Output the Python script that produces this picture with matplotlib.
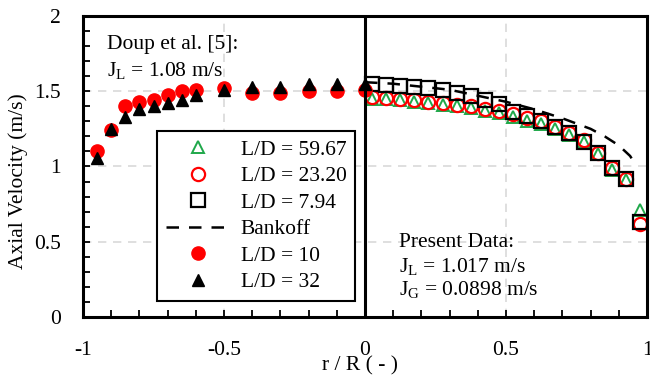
import matplotlib
matplotlib.use("Agg")
import matplotlib.pyplot as plt
from matplotlib.ticker import MultipleLocator

plt.rcParams['font.family'] = ['Liberation Serif', 'DejaVu Serif']
plt.rcParams['mathtext.fontset'] = 'custom'
plt.rcParams['mathtext.rm'] = 'Liberation Serif'
plt.rcParams['mathtext.it'] = 'Liberation Serif:italic'

FS = 15.5

# Present data (r/R > 0)
r_present = [0.025, 0.075, 0.125, 0.175, 0.225, 0.275, 0.325, 0.375, 0.425, 0.475,
             0.525, 0.575, 0.625, 0.675, 0.725, 0.775, 0.825, 0.875, 0.925, 0.975]
v_ld5967 = [1.45, 1.45, 1.44, 1.43, 1.42, 1.41, 1.40, 1.39, 1.37, 1.355,
            1.33, 1.30, 1.28, 1.25, 1.21, 1.16, 1.08, 0.98, 0.91, 0.71]
v_ld2320 = [1.46, 1.455, 1.45, 1.44, 1.43, 1.42, 1.41, 1.40, 1.385, 1.37,
            1.35, 1.32, 1.30, 1.265, 1.22, 1.175, 1.09, 0.99, 0.92, 0.62]
v_ld794 = [1.55, 1.54, 1.535, 1.53, 1.52, 1.51, 1.49, 1.47, 1.445, 1.415,
           1.365, 1.335, 1.30, 1.26, 1.22, 1.165, 1.09, 0.99, 0.92, 0.63]

# Bankoff profile
r_bankoff = [0.0, 0.1, 0.2, 0.3, 0.4, 0.5, 0.6, 0.7, 0.8, 0.85, 0.9, 0.94, 0.96]
v_bankoff = [1.56, 1.55, 1.53, 1.51, 1.47, 1.43, 1.38, 1.32, 1.25, 1.20, 1.14, 1.07, 1.01]

# Doup et al. [5]
r_doup = [-0.95, -0.90, -0.85, -0.80, -0.75, -0.70, -0.65, -0.60, -0.50, -0.40, -0.30, -0.20, -0.10, 0.0]
v_ld10 = [1.10, 1.24, 1.40, 1.43, 1.44, 1.475, 1.50, 1.51, 1.52, 1.49, 1.49, 1.50, 1.50, 1.51]
v_ld32 = [1.054, 1.25, 1.33, 1.38, 1.40, 1.42, 1.44, 1.475, 1.51, 1.53, 1.53, 1.55, 1.55, 1.55]

fig = plt.figure(figsize=(6.5, 3.78), dpi=100)
ax = fig.add_axes([0.1277, 0.1614, 0.8677, 0.7963])

ax.grid(True, which='major', color='#d9d9d9', linestyle=(0, (5, 4)), linewidth=1.2)
ax.set_axisbelow(True)

ax.plot(r_present, v_ld5967, linestyle='none', marker='^', markersize=8,
        markerfacecolor='none', markeredgecolor='#1fa84a', markeredgewidth=1.4,
        label='L/D = 59.67', zorder=3)
ax.plot(r_present, v_ld2320, linestyle='none', marker='o', markersize=9.5,
        markerfacecolor='none', markeredgecolor='#ff0000', markeredgewidth=1.6,
        label='L/D = 23.20', zorder=3)
ax.plot(r_present, v_ld794, linestyle='none', marker='s', markersize=9.5,
        markerfacecolor='none', markeredgecolor='black', markeredgewidth=1.6,
        label='L/D = 7.94', zorder=3)
ax.plot(r_bankoff, v_bankoff, color='black', linestyle=(0, (5, 4)), linewidth=1.8,
        label='Bankoff', zorder=2)
ax.plot(r_doup, v_ld10, linestyle='none', marker='o', markersize=9.5,
        color='#ff0000', label='L/D = 10', zorder=4)
ax.plot(r_doup, v_ld32, linestyle='none', marker='^', markersize=9,
        color='black', label='L/D = 32', zorder=5)

ax.axvline(0, color='black', linewidth=2.2, zorder=6)

ax.set_xlim(-1, 1)
ax.set_ylim(0, 2)
ax.xaxis.set_minor_locator(MultipleLocator(0.1))
ax.yaxis.set_minor_locator(MultipleLocator(0.1))
ax.set_xticks([-1, -0.5, 0, 0.5, 1])
ax.set_xticklabels(['-1', '-0.5', '0', '0.5', '1'])
ax.set_yticks([0, 0.5, 1, 1.5, 2])
ax.set_yticklabels(['0', '0.5', '1', '1.5', '2'])

ax.tick_params(axis='both', which='both', direction='in', top=False, right=False,
               width=1.3, length=5, labelsize=FS)
ax.tick_params(axis='x', which='major', pad=17)
ax.tick_params(axis='y', which='major', pad=16)

for s in ax.spines.values():
    s.set_linewidth(2.2)

ax.set_xlabel('r / R ( - )', fontsize=FS)
ax.xaxis.set_label_coords(0.491, -0.13)
ax.set_ylabel('Axial Velocity (m/s)', fontsize=FS)
ax.yaxis.set_label_coords(-0.098, 0.45)

ax.text(0.043, 0.904, 'Doup et al. [5]:', transform=ax.transAxes, fontsize=FS,
        va='center', ha='left')
ax.text(0.043, 0.82, r'J$_{\rm L}$ = 1.08 m/s', transform=ax.transAxes, fontsize=FS,
        va='center', ha='left')
ax.text(0.560, 0.249, 'Present Data:', transform=ax.transAxes, fontsize=FS,
        va='center', ha='left')
ax.text(0.560, 0.169, r'J$_{\rm L}$ = 1.017 m/s', transform=ax.transAxes, fontsize=FS,
        va='center', ha='left')
ax.text(0.560, 0.09, r'J$_{\rm G}$ = 0.0898 m/s', transform=ax.transAxes, fontsize=FS,
        va='center', ha='left')

leg = ax.legend(loc='upper left', bbox_to_anchor=(0.131, 0.618), fontsize=FS,
                frameon=True, fancybox=False, edgecolor='black', framealpha=1,
                borderpad=0.4, labelspacing=0.3, handlelength=3.0, handletextpad=0.5,
                borderaxespad=0)
leg.get_frame().set_linewidth(1.5)
leg.set_zorder(7)

fig.savefig('out.png', dpi=100)
